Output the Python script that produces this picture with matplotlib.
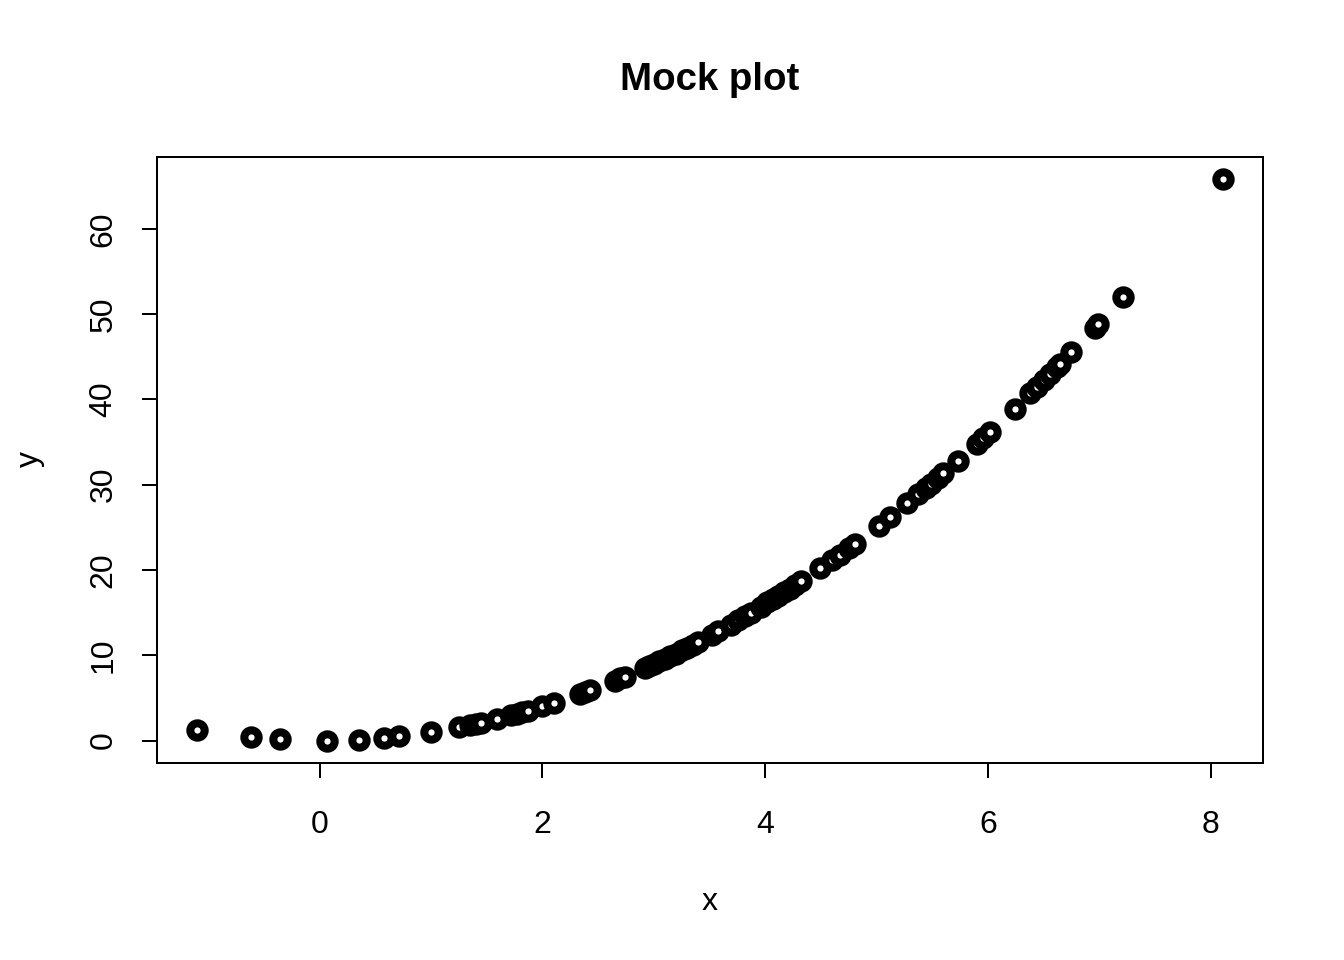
import matplotlib
matplotlib.use("Agg")
import matplotlib.pyplot as plt

plt.rcParams['font.family'] = ['Liberation Sans', 'DejaVu Sans']

x = [-1.10, -0.62, -0.36, 0.07, 0.35, 0.58, 0.71, 1.00, 1.25, 1.35, 1.40, 1.45,
     1.59, 1.72, 1.77, 1.82, 1.87, 2.00, 2.10, 2.34, 2.38, 2.43, 2.65, 2.70, 2.74,
     2.92, 2.96, 3.00, 3.05, 3.10, 3.15, 3.20, 3.25, 3.30, 3.35, 3.40, 3.52, 3.58,
     3.69, 3.76, 3.82, 3.87, 3.96, 4.02, 4.07, 4.12, 4.17, 4.22, 4.27, 4.32, 4.49,
     4.60, 4.67, 4.75, 4.81, 5.02, 5.12, 5.27, 5.37, 5.44, 5.49, 5.55, 5.60, 5.73,
     5.90, 5.96, 6.02, 6.24, 6.38, 6.44, 6.50, 6.56, 6.62, 6.65, 6.75, 6.96, 6.99,
     7.21, 8.11]
y = [1.2, 0.38, 0.13, 0.0, 0.12, 0.33, 0.5, 1.0, 1.56, 1.8, 2.0, 2.1,
     2.5, 2.95, 3.1, 3.3, 3.5, 4.0, 4.4, 5.5, 5.7, 5.9, 7.0, 7.3, 7.5,
     8.5, 8.8, 9.0, 9.3, 9.6, 9.9, 10.2, 10.6, 10.9, 11.2, 11.6, 12.4, 12.8,
     13.6, 14.1, 14.6, 15.0, 15.7, 16.2, 16.6, 17.0, 17.4, 17.8, 18.2, 18.7, 20.2,
     21.2, 21.8, 22.6, 23.1, 25.2, 26.2, 27.8, 28.9, 29.6, 30.1, 30.8, 31.4, 32.8,
     34.8, 35.5, 36.2, 38.9, 40.7, 41.5, 42.3, 43.0, 43.8, 44.2, 45.6, 48.4, 48.9,
     52.0, 65.8]

xticks = [0, 2, 4, 6, 8]
yticks = [0, 10, 20, 30, 40, 50, 60]

W, H = 1344, 960
fig = plt.figure(figsize=(7, 5), dpi=192)
ax = fig.add_axes([157/W, 1-763/H, (1263-157)/W, (763-157)/H])
ax.plot(x, y, linestyle='none', marker='o', markersize=5.4, markeredgewidth=3.0,
        markerfacecolor='white', markeredgecolor='black')

ax.set_xlim(-1.46, 8.47)
ax.set_ylim(-2.63, 68.43)
ax.set_xticks(xticks)
ax.set_yticks(yticks)
ax.set_yticklabels([str(v) for v in yticks], rotation=90, va='center')
ax.tick_params(axis='both', labelsize=12, length=5.5, width=0.75, direction='out')
ax.tick_params(axis='x', pad=12)
ax.tick_params(axis='y', pad=9)
for s in ax.spines.values():
    s.set_linewidth(0.75)

ax.set_xlabel('x', fontsize=12)
ax.xaxis.set_label_coords(710/W, 1-902/H, transform=fig.transFigure)
ax.xaxis.label.set_va('center')
ax.set_ylabel('y', fontsize=12)
ax.yaxis.set_label_coords(30/W, 1-459/H, transform=fig.transFigure)
ax.yaxis.label.set_va('center')
fig.text(710/W, 1-80/H, 'Mock plot', fontsize=14.4, fontweight='bold',
         ha='center', va='center')

fig.savefig('out.png', dpi=192, facecolor='white')
